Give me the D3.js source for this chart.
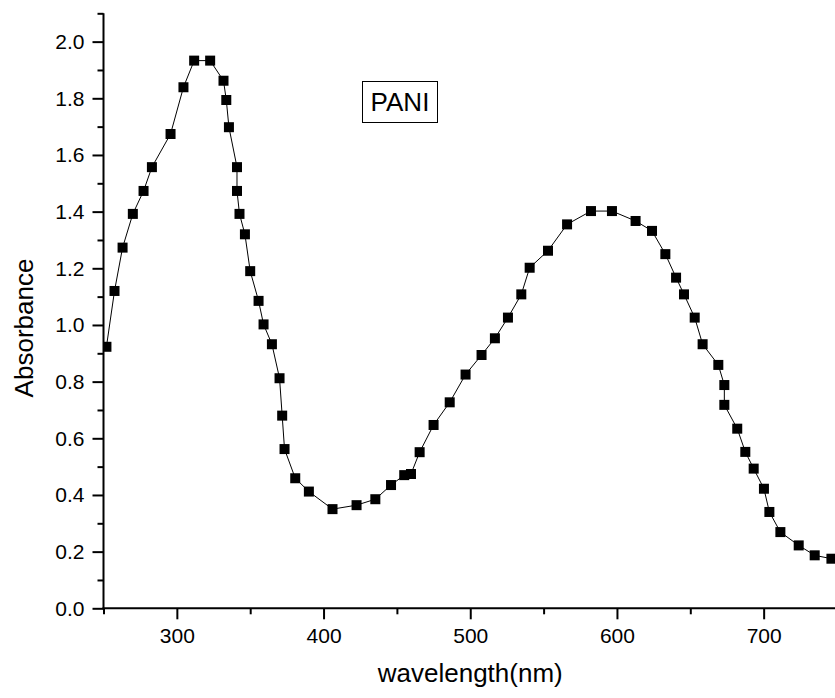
<!DOCTYPE html>
<html>
<head>
<meta charset="utf-8">
<script src="https://cdn.jsdelivr.net/npm/d3@7"></script>
<style>
  body { margin: 0; background: #fff; }
  svg { display: block; font-family: "Liberation Sans", Arial, sans-serif; }
</style>
</head>
<body>
<svg id="chart"></svg>
<script>
// data
const wavelength = [252, 257.5, 263, 270, 277.3, 283, 295.7, 304.5, 311.8, 322.7,
  331.8, 333.7, 335.5, 341, 341, 342.7, 346.4, 350, 355.7, 359.1,
  364.8, 370, 371.8, 373.4, 380.7, 390, 406.1, 422.5, 435.3, 446,
  455, 459.6, 465.5, 475, 486, 496.8, 507.7, 516.8, 525.7, 534.8,
  540.5, 553, 566, 582.3, 596.6, 612.7, 623.9, 633, 640.3, 645.7,
  653, 658.4, 669.1, 673.2, 673.2, 682, 687.5, 693.2, 700.2, 703.9,
  711.4, 723.9, 734.8, 746.2];
const absorbance = [0.923, 1.12, 1.273, 1.392, 1.473, 1.557, 1.674, 1.839, 1.933, 1.933,
  1.862, 1.794, 1.698, 1.557, 1.473, 1.392, 1.32, 1.19, 1.085, 1.002,
  0.932, 0.812, 0.68, 0.562, 0.459, 0.412, 0.35, 0.364, 0.385, 0.435,
  0.47, 0.474, 0.551, 0.647, 0.727, 0.825, 0.894, 0.953, 1.026, 1.108,
  1.202, 1.262, 1.355, 1.402, 1.402, 1.367, 1.332, 1.25, 1.167, 1.108,
  1.026, 0.932, 0.859, 0.788, 0.718, 0.634, 0.552, 0.493, 0.422, 0.34,
  0.269, 0.222, 0.187, 0.175];

const xMajor = [300, 400, 500, 600, 700];
const xMinor = [250, 350, 450, 550, 650, 750];
const yMajor = [0, 0.2, 0.4, 0.6, 0.8, 1.0, 1.2, 1.4, 1.6, 1.8, 2.0];
const yMinor = [0.1, 0.3, 0.5, 0.7, 0.9, 1.1, 1.3, 1.5, 1.7, 1.9, 2.1];

const seriesLabel = 'PANI';
const xTitle = 'wavelength(nm)';
const yTitle = 'Absorbance';

// canvas
let width = 835;
let height = 698;
let plot = {left: 103.5, right: 837, top: 13.3, bottom: 608.3};

let svg = d3.select('#chart')
  .attr('width', width)
  .attr('height', height);

let xScale = d3.scaleLinear().domain([250, 750]).range([plot.left, plot.right]);
let yScale = d3.scaleLinear().domain([0, 2.1]).range([plot.bottom, plot.top]);

let values = wavelength.map((w, i) => ({x: w, y: absorbance[i]}));

// clip to plot area
svg.append('clipPath').attr('id', 'plotclip')
  .append('rect')
  .attr('x', plot.left).attr('y', plot.top - 6)
  .attr('width', plot.right - plot.left).attr('height', plot.bottom - plot.top + 6);

let area = svg.append('g').attr('clip-path', 'url(#plotclip)');

let line = d3.line()
  .x(d => xScale(d.x))
  .y(d => yScale(d.y));

area.append('path')
  .datum(values)
  .attr('d', line)
  .attr('fill', 'none')
  .attr('stroke', '#000')
  .attr('stroke-width', 1);

let size = 10;
area.selectAll('rect.dot')
  .data(values)
  .enter()
  .append('rect')
  .attr('class', 'dot')
  .attr('x', d => xScale(d.x) - size / 2)
  .attr('y', d => yScale(d.y) - size / 2)
  .attr('width', size)
  .attr('height', size)
  .attr('fill', '#000');

// axes
const styleAxis = (g) => {
  g.attr('font-family', null);
  g.select('.domain').remove();
  g.selectAll('.tick line').attr('stroke', '#000').attr('stroke-width', 2);
  g.selectAll('.tick text').attr('fill', '#000').style('font-size', '21px');
};

svg.append('g')
  .attr('transform', 'translate(0,' + plot.bottom + ')')
  .call(d3.axisBottom(xScale).tickValues(xMajor).tickSize(11).tickPadding(9).tickFormat(d3.format('d')))
  .call(styleAxis);

svg.append('g')
  .attr('transform', 'translate(0,' + plot.bottom + ')')
  .call(d3.axisBottom(xScale).tickValues(xMinor).tickSize(6).tickFormat(''))
  .call(styleAxis);

svg.append('g')
  .attr('transform', 'translate(' + plot.left + ',0)')
  .call(d3.axisLeft(yScale).tickValues(yMajor).tickSize(11).tickPadding(8).tickFormat(d3.format('.1f')))
  .call(styleAxis);

svg.append('g')
  .attr('transform', 'translate(' + plot.left + ',0)')
  .call(d3.axisLeft(yScale).tickValues(yMinor).tickSize(6).tickFormat(''))
  .call(styleAxis);

// axis lines
svg.append('line')
  .attr('x1', plot.left).attr('x2', plot.left)
  .attr('y1', plot.top).attr('y2', plot.bottom + 1)
  .attr('stroke', '#000').attr('stroke-width', 2);
svg.append('line')
  .attr('x1', plot.left - 1).attr('x2', width)
  .attr('y1', plot.bottom).attr('y2', plot.bottom)
  .attr('stroke', '#000').attr('stroke-width', 2);

// titles
svg.append('text')
  .attr('x', (plot.left + plot.right) / 2)
  .attr('y', 682)
  .attr('text-anchor', 'middle')
  .style('font-size', '26px')
  .text(xTitle);

svg.append('text')
  .attr('transform', 'translate(33,328) rotate(-90)')
  .attr('text-anchor', 'middle')
  .style('font-size', '26px')
  .text(yTitle);

// label box
let lbl = svg.append('g');
lbl.append('rect')
  .attr('x', 362.5).attr('y', 81.5)
  .attr('width', 75).attr('height', 41)
  .attr('fill', '#fff').attr('stroke', '#000').attr('stroke-width', 1);
lbl.append('text')
  .attr('x', 400).attr('y', 111)
  .attr('text-anchor', 'middle')
  .style('font-size', '26px')
  .text(seriesLabel);
</script>
</body>
</html>
